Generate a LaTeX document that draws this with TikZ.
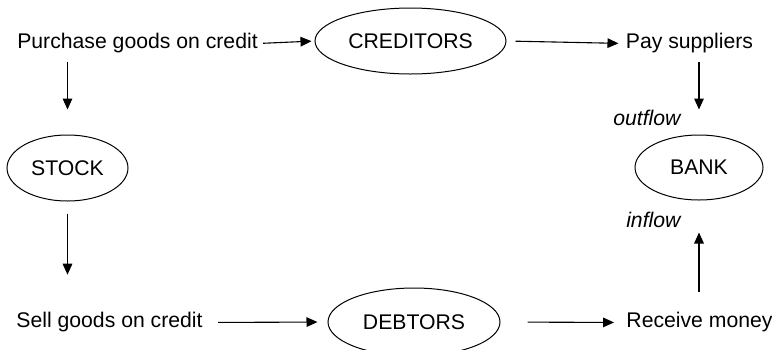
\documentclass[tikz,border=0pt]{standalone}
\usepackage{fontspec}
\setmainfont{Liberation Sans}
\usetikzlibrary{shapes.geometric,arrows.meta}
\begin{document}
\begin{tikzpicture}[x=0.5pt,y=-0.5pt,font=\fontsize{10.6}{12.7}\selectfont,
  acct/.style={draw,ellipse,line width=0.5pt,inner sep=0pt},
  txt/.style={inner sep=0pt},
  flow/.style={->,>={Triangle[length=5.5pt,width=4.8pt]},line width=0.55pt}]
\useasboundingbox (0,0) rectangle (772,349);
\node[txt] (purchase) at (137.5,43.5) {Purchase goods on credit};
\node[acct,minimum width=95.5pt,minimum height=33pt] (creditors) at (410.5,41) {CREDITORS};
\node[txt] (pay) at (689.5,43.5) {Pay suppliers};
\node[acct,minimum width=60.5pt,minimum height=33pt] (stock) at (67.5,168) {STOCK};
\node[acct,minimum width=64pt,minimum height=32.5pt] (bank) at (699,167.5) {BANK};
\node[txt] (sell) at (109.5,322.5) {Sell goods on credit};
\node[acct,minimum width=86pt,minimum height=34pt] (debtors) at (414,322) {DEBTORS};
\node[txt] (receive) at (699.5,322.5) {Receive money};
\node[txt,anchor=east] (outflow) at (682,117.5) {\textit{outflow}};
\node[txt,anchor=east] (inflow) at (682,219.5) {\textit{inflow}};
\draw[flow,shorten <=2.5pt,shorten >=1.5pt] (purchase.east) -- (creditors.west);
\draw[flow,shorten <=4.5pt,shorten >=3.5pt] (creditors.east) -- (pay.west);
\draw[flow,shorten <=7.5pt,shorten >=5pt] (sell.east) -- (debtors.west);
\draw[flow,shorten <=13.5pt,shorten >=6pt] (debtors.east) -- (receive.west);
\draw[flow,shorten <=4.25pt,shorten >=12.5pt] (purchase.south -| stock.north) -- (stock.north);
\draw[flow,shorten <=6pt,shorten >=18.75pt] (stock.south) -- (sell.north -| stock.south);
\draw[flow,shorten <=4.25pt,shorten >=12.5pt] (pay.south -| bank.north) -- (bank.north);
\draw[flow,shorten <=10pt,shorten >=16pt] (receive.north -| bank.south) -- (bank.south);
\end{tikzpicture}
\end{document}
